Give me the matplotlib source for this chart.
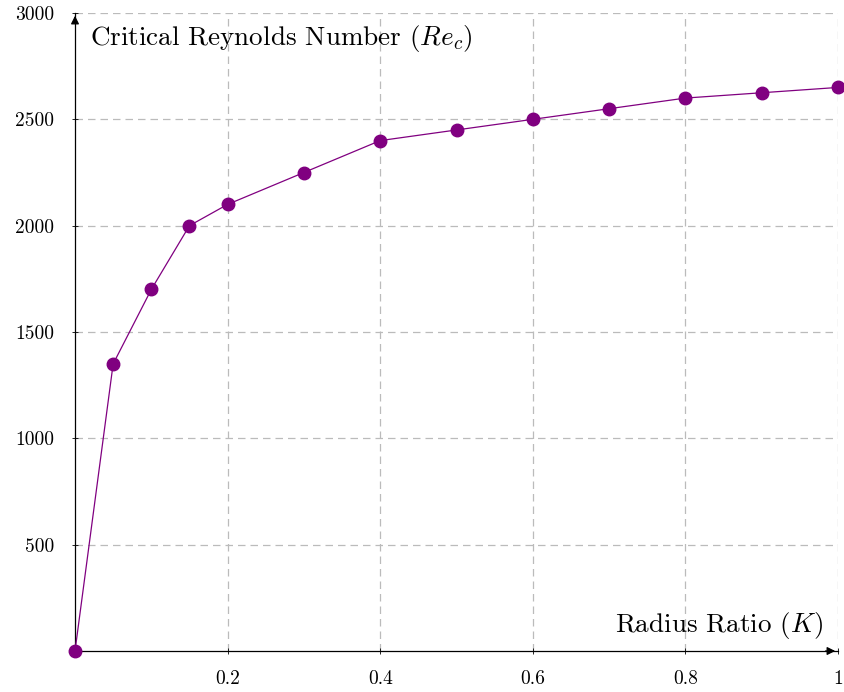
import matplotlib
matplotlib.use("Agg")
import matplotlib.pyplot as plt

radius_ratio = [0.0, 0.05, 0.1, 0.15, 0.2, 0.3, 0.4, 0.5, 0.6, 0.7, 0.8, 0.9, 1.0]
reynolds = [0, 1350, 1700, 2000, 2100, 2250, 2400, 2450, 2500, 2550, 2600, 2625, 2650]
x_ticks = [0.2, 0.4, 0.6, 0.8, 1.0]
x_tick_labels = ["0.2", "0.4", "0.6", "0.8", "1"]
y_ticks = [500, 1000, 1500, 2000, 2500, 3000]

plt.rcParams['font.family'] = ['cmr10', 'DejaVu Serif']
plt.rcParams['mathtext.fontset'] = 'cm'
plt.rcParams['axes.unicode_minus'] = False

fig = plt.figure(figsize=(8.44, 6.92), dpi=100)
ax = fig.add_axes([75 / 844, 41 / 692, 763 / 844, 638 / 692])

ax.plot(radius_ratio, reynolds, color='#800080', lw=0.9, marker='o',
        markersize=9, clip_on=False, zorder=5)

ax.set_xlim(0, 1)
ax.set_ylim(0, 3000)
ax.set_xticks(x_ticks)
ax.set_xticklabels(x_tick_labels)
ax.set_yticks(y_ticks)
ax.tick_params(labelsize=14, length=4, width=0.6, direction='inout')
ax.tick_params(axis='y', pad=13)
ax.tick_params(axis='x', pad=12)

ax.grid(True, color='#bbbbbb', linestyle=(0, (6, 4)), lw=0.9)
ax.set_axisbelow(True)

for s in ['top', 'right']:
    ax.spines[s].set_visible(False)
ax.spines['left'].set_linewidth(0.9)
ax.spines['bottom'].set_linewidth(0.9)

# arrow heads on the axes
ax.annotate('', xy=(1.0, 0), xytext=(0.98, 0), xycoords='axes fraction',
            arrowprops=dict(arrowstyle='-|>', color='k', lw=0.9, mutation_scale=12))
ax.annotate('', xy=(0, 1.0), xytext=(0, 0.98), xycoords='axes fraction',
            arrowprops=dict(arrowstyle='-|>', color='k', lw=0.9, mutation_scale=12))

ax.text(0.02, 0.96, r'Critical Reynolds Number ($Re_c$)', transform=ax.transAxes,
        fontsize=19.5, ha='left', va='center')
ax.text(0.98, 0.04, r'Radius Ratio ($K$)', transform=ax.transAxes,
        fontsize=19.5, ha='right', va='center')

fig.savefig('out.png', dpi=100)
